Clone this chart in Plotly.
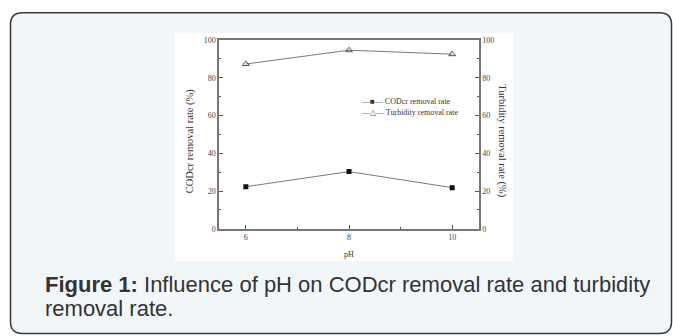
import plotly.graph_objects as go

W, H = 673, 336

ph = [6, 8, 10]
cod_removal = [22.3, 30.3, 21.8]
turbidity_removal = [87.3, 94.6, 92.5]
x_ticks = [6, 8, 10]
y_ticks = [0, 20, 40, 60, 80, 100]
series_names = ["CODcr removal rate", "Turbidity removal rate"]

def px(x):
    return x / W

def py(y):
    return 1 - y / H

SERIF = "Liberation Serif, Times New Roman, serif"
SANS = "Liberation Sans, Arial, sans-serif"
LINE_C = "#7a7a7a"

fig = go.Figure()
fig.add_trace(go.Scatter(
    x=ph, y=cod_removal, name=series_names[0], mode="lines+markers",
    line=dict(color=LINE_C, width=1),
    marker=dict(symbol="square", size=5, color="#111111"),
    yaxis="y", showlegend=False))
fig.add_trace(go.Scatter(
    x=ph, y=turbidity_removal, name=series_names[1], mode="lines+markers",
    line=dict(color=LINE_C, width=1),
    marker=dict(symbol="triangle-up-open", size=6, color="#555555", line=dict(width=1)),
    yaxis="y2", showlegend=False))

# outer rounded box
x0, x1, y0, y1, r = 10.5, 671.5, 9, 338.5, 12
path = (f"M {px(x0+r)},{py(y0)} L {px(x1-r)},{py(y0)} Q {px(x1)},{py(y0)} {px(x1)},{py(y0+r)} "
        f"L {px(x1)},{py(y1-r)} Q {px(x1)},{py(y1)} {px(x1-r)},{py(y1)} "
        f"L {px(x0+r)},{py(y1)} Q {px(x0)},{py(y1)} {px(x0)},{py(y1-r)} "
        f"L {px(x0)},{py(y0+r)} Q {px(x0)},{py(y0)} {px(x0+r)},{py(y0)} Z")
shapes = [
    dict(type="path", xref="paper", yref="paper", path=path,
         fillcolor="#f1f6f9", line=dict(color="#3a3a3a", width=1.5), layer="below"),
    dict(type="rect", xref="paper", yref="paper", x0=px(175), x1=px(513), y0=py(264), y1=py(30),
         fillcolor="#ffffff", line=dict(width=0), layer="below"),
]

axis_line = dict(showline=True, linecolor="#777777", linewidth=1.5, showgrid=False, zeroline=False,
                 ticks="inside", tickcolor="#555555", ticklen=4, tickwidth=1,
                 tickfont=dict(family=SERIF, size=8, color="#444444"))

legend_font = dict(family=SERIF, size=8, color="#333333")
legend_ann = [
    dict(text=f"<span style='color:#777'>—</span>■<span style='color:#777'>—</span> {series_names[0]}",
         x=px(359), y=py(100.5), xref="paper", yref="paper", xanchor="left", yanchor="middle",
         showarrow=False, font=legend_font),
    dict(text=f"<span style='color:#777'>—</span><span style='color:#666'>△</span><span style='color:#777'>—</span> {series_names[1]}",
         x=px(359), y=py(111.5), xref="paper", yref="paper", xanchor="left", yanchor="middle",
         showarrow=False, font=legend_font),
]

fig.update_layout(
    width=W, height=H,
    margin=dict(l=0, r=0, t=0, b=0),
    paper_bgcolor="#ffffff", plot_bgcolor="#ffffff",
    shapes=shapes,
    showlegend=False,
    xaxis=dict(domain=[px(219), px(479)], range=[5.48, 10.52], tickvals=x_ticks,
               mirror=True, minor=dict(tickvals=[7, 9], ticks="inside", ticklen=2, tickcolor="#555555"),
               **axis_line),
    yaxis=dict(domain=[py(231), py(37)], range=[0, 100], tickvals=y_ticks,
               minor=dict(dtick=10, ticks="inside", ticklen=2, tickcolor="#555555"),
               **axis_line),
    yaxis2=dict(overlaying="y", side="right", range=[0, 100], tickvals=y_ticks, anchor="x",
                minor=dict(dtick=10, ticks="inside", ticklen=2, tickcolor="#555555"),
                **axis_line),
    annotations=legend_ann + [
        dict(text="CODcr removal rate (%)", x=px(190), y=py(141), xref="paper", yref="paper",
             xanchor="center", yanchor="middle",
             textangle=-90, showarrow=False, font=dict(family=SERIF, size=10.5, color="#333333")),
        dict(text="Turbidity removal rate (%)", x=px(502), y=py(141), xref="paper", yref="paper",
             xanchor="center", yanchor="middle",
             textangle=90, showarrow=False, font=dict(family=SERIF, size=10.5, color="#333333")),
        dict(text="pH", x=px(349), y=py(257), xref="paper", yref="paper",
             xanchor="center", yanchor="middle",
             showarrow=False, font=dict(family=SERIF, size=8, color="#333333")),
        dict(text="<b>Figure 1:</b> Influence of pH on CODcr removal rate and turbidity",
             x=px(43), y=py(288), xref="paper", yref="paper", xanchor="left", yanchor="middle",
             showarrow=False, font=dict(family=SANS, size=22, color="#333333")),
        dict(text="removal rate.",
             x=px(43), y=py(313), xref="paper", yref="paper", xanchor="left", yanchor="middle",
             showarrow=False, font=dict(family=SANS, size=22, color="#333333")),
    ],
)

fig.write_html("out.html", config={"displayModeBar": False},
               post_script=("document.body.style.margin='0';"
                            "document.body.style.overflow='hidden';"
                            "document.documentElement.style.overflow='hidden';"))
